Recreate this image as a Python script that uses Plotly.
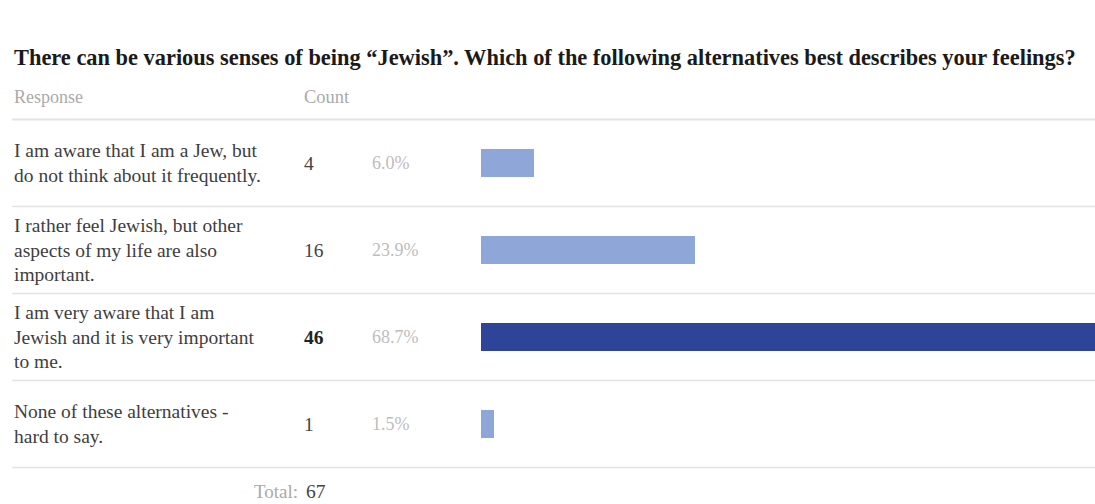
import plotly.graph_objects as go

title = "There can be various senses of being \u201cJewish\u201d. Which of the following alternatives best describes your feelings?"
responses = [
    ["I am aware that I am a Jew, but", "do not think about it frequently."],
    ["I rather feel Jewish, but other", "aspects of my life are also", "important."],
    ["I am very aware that I am", "Jewish and it is very important", "to me."],
    ["None of these alternatives -", "hard to say."],
]
counts = [4, 16, 46, 1]
percents = ["6.0%", "23.9%", "68.7%", "1.5%"]
total = 67
header_labels = ["Response", "Count"]

W, H = 1095, 504
PITCH = 87.0
ROW0 = 163.0
LINE_GAP = 24.5
FONT = "Liberation Serif, DejaVu Serif, serif"

def py(p):
    return (p - ROW0) / PITCH

maxc = max(counts)
colors = ["#2D4499" if c == maxc else "#8FA6D9" for c in counts]
rows = list(range(len(counts)))

fig = go.Figure()
fig.add_trace(go.Bar(
    x=counts, y=rows, orientation="h", width=28 / PITCH,
    marker=dict(color=colors, line=dict(width=0)),
    hoverinfo="skip", showlegend=False,
))

ann = []
def px(x):
    return x / W

ann.append(dict(text="<b>" + title + "</b>", x=px(12), y=py(57), xref="paper", yref="y",
                xanchor="left", yanchor="middle", showarrow=False,
                font=dict(family=FONT, size=22.4, color="#1a1a1a")))
ann.append(dict(text=header_labels[0], x=px(12), y=py(97), xref="paper", yref="y",
                xanchor="left", yanchor="middle", showarrow=False,
                font=dict(family=FONT, size=18, color="#aaaaaa")))
ann.append(dict(text=header_labels[1], x=px(302), y=py(97), xref="paper", yref="y",
                xanchor="left", yanchor="middle", showarrow=False,
                font=dict(family=FONT, size=18.5, color="#aaaaaa")))

for i, lines in enumerate(responses):
    n = len(lines)
    for j, ln in enumerate(lines):
        yy = i + ((j - (n - 1) / 2) * LINE_GAP) / PITCH
        ann.append(dict(text=ln, x=px(12), y=yy, xref="paper", yref="y",
                        xanchor="left", yanchor="middle", showarrow=False,
                        font=dict(family=FONT, size=19.5, color="#3e3e3e")))
    ctext = f"<b>{counts[i]}</b>" if counts[i] == maxc else str(counts[i])
    ann.append(dict(text=ctext, x=px(302), y=i, xref="paper", yref="y",
                    xanchor="left", yanchor="middle", showarrow=False,
                    font=dict(family=FONT, size=19.5, color="#222222" if counts[i] == maxc else "#444444")))
    ann.append(dict(text=percents[i], x=px(370), y=i, xref="paper", yref="y",
                    xanchor="left", yanchor="middle", showarrow=False,
                    font=dict(family=FONT, size=18, color="#bdbdbd")))

ann.append(dict(text="Total:", x=px(300), y=py(491), xref="paper", yref="y",
                xanchor="right", yanchor="middle", showarrow=False,
                font=dict(family=FONT, size=19, color="#aaaaaa")))
ann.append(dict(text=str(total), x=px(304), y=py(491), xref="paper", yref="y",
                xanchor="left", yanchor="middle", showarrow=False,
                font=dict(family=FONT, size=19.5, color="#444444")))

shapes = []
for k in range(len(counts) + 1):
    shapes.append(dict(type="line", xref="paper", yref="y", x0=px(12), x1=1,
                       y0=k - 0.5, y1=k - 0.5,
                       line=dict(color="#e3e3e3", width=2 if k == 0 else 1.5)))

fig.update_layout(
    width=W, height=H,
    margin=dict(l=0, r=0, t=0, b=0),
    paper_bgcolor="white", plot_bgcolor="rgba(0,0,0,0)",
    xaxis=dict(domain=[481 / W, 1], range=[0, maxc], visible=False, fixedrange=True),
    yaxis=dict(range=[py(H), py(0)], visible=False, fixedrange=True),
    annotations=ann, shapes=shapes,
    bargap=0,
)

fig.write_html("out.html")
